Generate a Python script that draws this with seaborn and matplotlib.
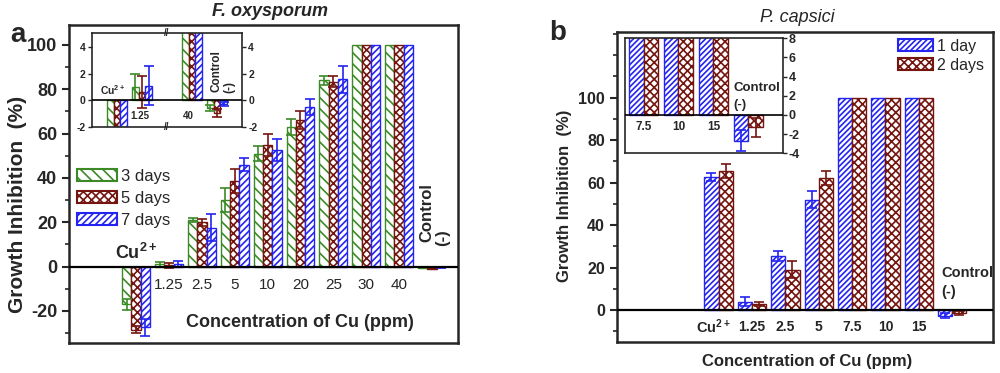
import numpy as np
import pandas as pd
import matplotlib
matplotlib.use('Agg')
import matplotlib.pyplot as plt
from matplotlib.patches import Patch
import seaborn as sns

# ---- panel a : F. oxysporum ----
cats_a = ['Cu2+', '1.25', '2.5', '5', '10', '20', '25', '30', '40', 'Control']
days_a = ['3 days', '5 days', '7 days']
inh_3d = [-17.0, 1.0, 21.0, 30.0, 51.0, 63.0, 84.0, 100, 100, -0.6]
err_3d = [2.5, 1.0, 1.0, 5.5, 3.5, 3.5, 2.0, 0, 0, 0.2]
inh_5d = [-28.5, 0.6, 20.0, 38.5, 55.0, 66.0, 83.5, 100, 100, -1.0]
err_5d = [1.5, 1.2, 1.5, 5.5, 5.0, 4.0, 2.5, 0, 0, 0.3]
inh_7d = [-27.5, 1.1, 17.5, 46.0, 52.5, 72.0, 84.5, 100, 100, -0.3]
err_7d = [4.0, 1.5, 6.0, 3.0, 5.0, 3.5, 6.0, 0, 0, 0.15]
inset_a_cats = ['Cu2+', '1.25', '40', 'Control']
inset_a_order = ['Cu2+', '1.25', 'gap', '40', 'Control']

# ---- panel b : P. capsici ----
cats_b = ['Cu2+', '1.25', '2.5', '5', '7.5', '10', '15', 'Control']
days_b = ['1 day', '2 days']
inh_1d = [62.5, 4.0, 25.5, 52.0, 100, 100, 100, -2.7]
err_1d = [2.0, 2.0, 2.2, 4.0, 0, 0, 0, 1.1]
inh_2d = [65.5, 2.8, 19.0, 62.0, 100, 100, 100, -1.3]
err_2d = [3.3, 1.0, 4.0, 3.3, 0, 0, 0, 1.0]
inset_b_cats = ['7.5', '10', '15', 'Control']

green, brown, blue = '#3b8a26', '#74150f', '#2424f0'

sns.set_style('ticks')
plt.rcParams['font.family'] = ['Liberation Sans', 'DejaVu Sans']
plt.rcParams['mathtext.fontset'] = 'custom'
plt.rcParams['mathtext.rm'] = 'Liberation Sans'
plt.rcParams['mathtext.bf'] = 'Liberation Sans:bold'
plt.rcParams['hatch.linewidth'] = 1.2
plt.rcParams['axes.unicode_minus'] = False


def draw_bars(ax, cats, order, levels, values, errs, colors, hatches, width):
    sel = [cats.index(c) for c in order if c in cats]
    rows = []
    for lev, vals in zip(levels, values):
        for i in sel:
            rows.append({'conc': cats[i], 'day': lev, 'val': vals[i]})
    df = pd.DataFrame(rows)
    sns.barplot(data=df, x='conc', y='val', hue='day', order=order,
                hue_order=levels, palette=colors, width=width, gap=0,
                errorbar=None, legend=False, ax=ax)
    for cont, col, hat, err in zip(ax.containers, colors, hatches, errs):
        xs, ys, es = [], [], []
        for bar, i in zip(cont, sel):
            bar.set_facecolor('white')
            bar.set_edgecolor(col)
            bar.set_hatch(hat)
            bar.set_linewidth(1.0)
            if err[i] > 0:
                xs.append(bar.get_x() + bar.get_width() / 2)
                ys.append(bar.get_y() + bar.get_height())
                es.append(err[i])
        ax.errorbar(xs, ys, yerr=es, fmt='none', ecolor=col,
                    elinewidth=1.2, capsize=3.5, capthick=1.2)
    ax.set_xlabel('')
    ax.set_ylabel('')
    ax.set_xticks([])


fig = plt.figure(figsize=(10, 3.73), dpi=100)
ax_a = fig.add_axes([0.069, 0.0804, 0.389, 0.8525])
ax_ai = fig.add_axes([0.092, 0.6603, 0.150, 0.2512])
ax_b = fig.add_axes([0.6167, 0.0823, 0.3763, 0.8327])
ax_bi = fig.add_axes([0.625, 0.589, 0.1583, 0.3083])

hatch_a = ['\\\\\\', 'xxxx', '/////']
cols_a = [green, brown, blue]
hatch_b = ['//////', 'xxxx']
cols_b = [blue, brown]

# ---------- panel a main ----------
draw_bars(ax_a, cats_a, cats_a, days_a, [inh_3d, inh_5d, inh_7d],
          [err_3d, err_5d, err_7d], cols_a, hatch_a, 0.85)
ax_a.axhline(0, color='black', lw=1.6, zorder=5)
ax_a.set_xlim(-2.04, 9.79)
ax_a.set_ylim(-34.5, 109)
ax_a.set_yticks(range(-20, 101, 20))
ax_a.set_yticks(range(-30, 101, 10), minor=True)
ax_a.tick_params(axis='y', which='major', direction='out', length=5, width=1.5, labelsize=13)
ax_a.tick_params(axis='y', which='minor', direction='out', length=3, width=1.2)
for lab in ax_a.get_yticklabels():
    lab.set_fontweight('bold')
for sp in ax_a.spines.values():
    sp.set_visible(True)
    sp.set_linewidth(1.8)
for i, c in enumerate(cats_a[1:-1], start=1):
    ax_a.text(i, -8.3, c, ha='center', va='center', fontsize=11)
ax_a.text(0, 3.5, r'$\mathbf{Cu^{2+}}$', ha='center', va='baseline', fontsize=13)
ax_a.text(8.83, 24.2, 'Control', rotation=90, ha='center', va='center',
          fontsize=12, fontweight='bold')
ax_a.text(9.33, 13.2, '(-)', rotation=90, ha='center', va='center',
          fontsize=12, fontweight='bold')
ax_a.text(4.98, -25.3, 'Concentration of Cu (ppm)', ha='center', va='center',
          fontsize=13, fontweight='bold')
ax_a.legend(handles=[Patch(facecolor='white', edgecolor=c, hatch=h, lw=1.5, label=l)
                     for c, h, l in zip(cols_a, hatch_a, days_a)],
            loc='upper left', bbox_to_anchor=(0.02, 0.548), frameon=False,
            fontsize=12, handlelength=2.4, handleheight=0.75, handletextpad=0.25,
            labelspacing=0.42, borderpad=0, borderaxespad=0)

# ---------- panel a inset ----------
ax_ai.set_facecolor('white')
draw_bars(ax_ai, cats_a, inset_a_order, days_a, [inh_3d, inh_5d, inh_7d],
          [err_3d, err_5d, err_7d], cols_a, hatch_a, 0.8)
ax_ai.axhline(0, color='black', lw=1.2, zorder=5)
ax_ai.set_xlim(-1, 5)
ax_ai.set_ylim(-2, 5.05)
ax_ai.set_yticks([-2, 0, 2, 4])
ax_ai.tick_params(axis='y', direction='out', length=3, width=1.0, labelsize=7.5,
                  left=True, right=True, labelleft=True, labelright=True, pad=1.5)
for lab in ax_ai.get_yticklabels():
    lab.set_fontweight('bold')
for sp in ax_ai.spines.values():
    sp.set_visible(True)
    sp.set_linewidth(1.2)
ax_ai.text(-0.16, 0.73, r'$\mathbf{Cu^{2+}}$', ha='center', va='center', fontsize=7.5)
ax_ai.text(0.92, -1.2, '1.25', ha='center', va='center', fontsize=7, fontweight='bold')
ax_ai.text(2.84, -1.2, '40', ha='center', va='center', fontsize=7, fontweight='bold')
ax_ai.text(4.0, 2.2, 'Control', rotation=90, ha='center', va='center',
           fontsize=8.5, fontweight='bold')
ax_ai.text(4.5, 1.0, '(-)', rotation=90, ha='center', va='center',
           fontsize=8.5, fontweight='bold')
for yy in (5.05, -2):
    ax_ai.text(2, yy, '//', ha='center', va='center', fontsize=7, fontweight='bold',
               clip_on=False)

# ---------- panel b main ----------
draw_bars(ax_b, cats_b, cats_b, days_b, [inh_1d, inh_2d], [err_1d, err_2d],
          cols_b, hatch_b, 0.85)
ax_b.axhline(0, color='black', lw=1.6, zorder=5)
ax_b.set_xlim(-3.05, 8.22)
ax_b.set_ylim(-15.2, 131)
ax_b.set_yticks(range(0, 101, 20))
ax_b.set_yticks(range(-10, 131, 10), minor=True)
ax_b.tick_params(axis='y', which='major', direction='out', length=5, width=1.5, labelsize=11.5)
ax_b.tick_params(axis='y', which='minor', direction='out', length=3, width=1.2)
for lab in ax_b.get_yticklabels():
    lab.set_fontweight('bold')
for sp in ax_b.spines.values():
    sp.set_visible(True)
    sp.set_linewidth(1.8)
ax_b.text(-0.16, -7.9, r'$\mathbf{Cu^{2+}}$', ha='center', va='center', fontsize=10.5)
for i, c in enumerate(cats_b[1:-1], start=1):
    ax_b.text(i, -7.9, c, ha='center', va='center', fontsize=10, fontweight='bold')
ax_b.text(6.66, 17.3, 'Control', ha='left', va='center', fontsize=10.5, fontweight='bold')
ax_b.text(6.66, 8.6, '(-)', ha='left', va='center', fontsize=10.5, fontweight='bold')
ax_b.legend(handles=[Patch(facecolor='white', edgecolor=c, hatch=h, lw=1.5, label=l)
                     for c, h, l in zip(cols_b, hatch_b, days_b)],
            loc='upper left', bbox_to_anchor=(0.747, 0.978), frameon=False,
            fontsize=11.5, handlelength=2.2, handleheight=0.8, handletextpad=0.25,
            labelspacing=0.25, borderpad=0, borderaxespad=0)

# ---------- panel b inset ----------
ax_bi.set_facecolor('white')
draw_bars(ax_bi, cats_b, inset_b_cats, days_b, [inh_1d, inh_2d], [err_1d, err_2d],
          cols_b, hatch_b, 0.83)
ax_bi.axhline(0, color='black', lw=1.2, zorder=5)
ax_bi.set_xlim(-0.53, 4.0)
ax_bi.set_ylim(-4, 8)
ax_bi.set_yticks(range(-4, 9, 2))
ax_bi.tick_params(axis='y', direction='out', length=3, width=1.0, labelsize=9,
                  left=False, right=True, labelleft=False, labelright=True, pad=1)
for lab in ax_bi.get_yticklabels():
    lab.set_fontweight('bold')
for sp in ax_bi.spines.values():
    sp.set_visible(True)
    sp.set_linewidth(1.2)
for i, c in enumerate(inset_b_cats[:-1]):
    ax_bi.text(i, -1.22, c, ha='center', va='center', fontsize=8.5, fontweight='bold')
ax_bi.text(2.58, 2.85, 'Control', ha='left', va='center', fontsize=9.5, fontweight='bold')
ax_bi.text(2.58, 1.04, '(-)', ha='left', va='center', fontsize=9.5, fontweight='bold')

# ---------- figure texts ----------
fig.text(0.270, 1 - 11 / 373, 'F. oxysporum', ha='center', va='center',
         fontsize=13, fontweight='bold', style='italic')
fig.text(0.797, 1 - 17 / 373, 'P. capsici', ha='center', va='center',
         fontsize=13, style='italic')
fig.text(0.0175, 1 - 35 / 373, 'a', ha='center', va='center', fontsize=20, fontweight='bold')
fig.text(0.5575, 1 - 33 / 373, 'b', ha='center', va='center', fontsize=20, fontweight='bold')
fig.text(0.018, 1 - 204 / 373, 'Growth Inhibition  (%)', rotation=90, ha='center',
         va='center', fontsize=15, fontweight='bold')
fig.text(0.565, 1 - 196 / 373, 'Growth Inhibition  (%)', rotation=90, ha='center',
         va='center', fontsize=12, fontweight='bold')
fig.text(0.8067, 1 - 361.7 / 373, 'Concentration of Cu (ppm)', ha='center', va='center',
         fontsize=12, fontweight='bold')

fig.savefig('out.png', dpi=100)
